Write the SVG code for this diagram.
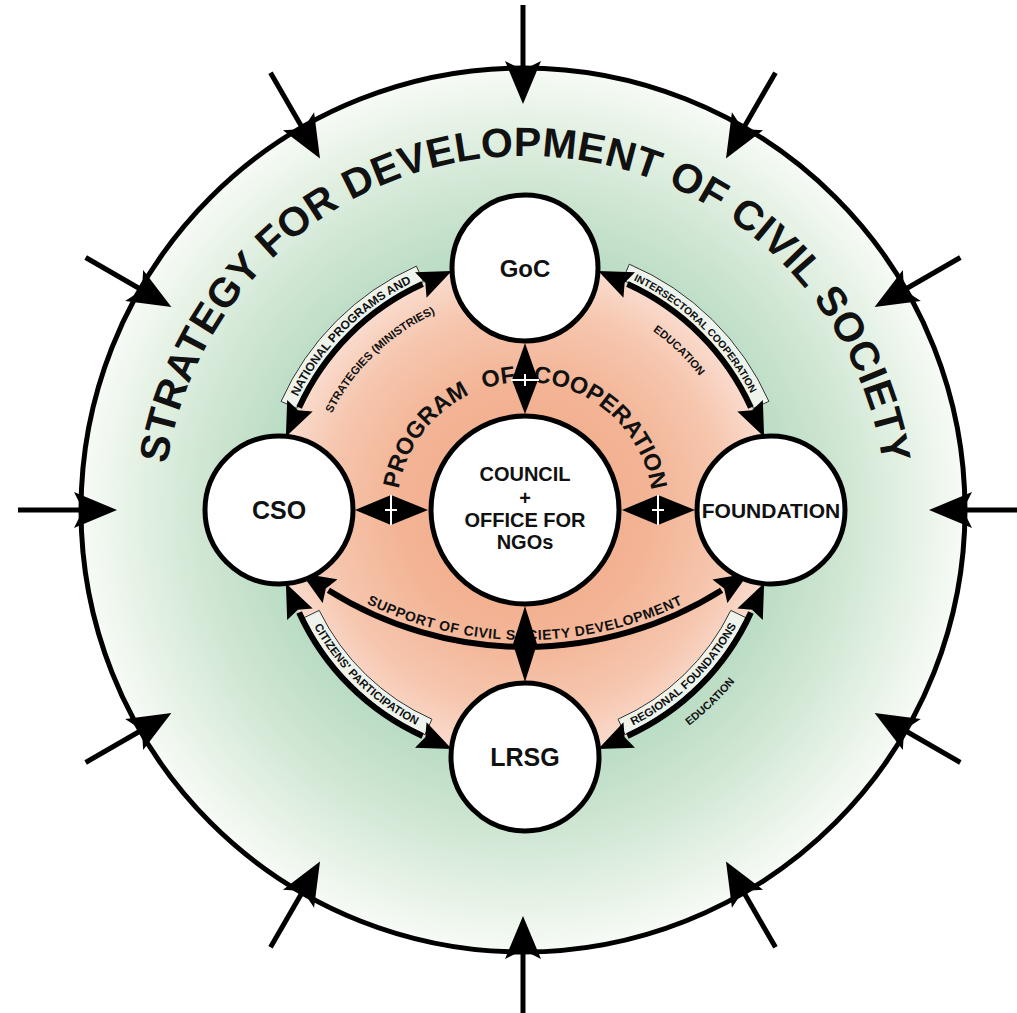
<svg xmlns="http://www.w3.org/2000/svg" xmlns:xlink="http://www.w3.org/1999/xlink" width="1017" height="1013" viewBox="0 0 1017 1013">
<style>
text{font-family:"Liberation Sans",Arial,sans-serif;font-weight:bold;fill:#111}
.node{fill:#fff;stroke:#000;stroke-width:5}
.arc{fill:none;stroke:#000;stroke-width:6;marker-start:url(#ah);marker-end:url(#ah)}
.band{fill:#eef4ec;stroke:#333;stroke-width:1}
.dia{fill:#000}
.cut{stroke:#fff;stroke-width:2}
</style>
<defs>
<radialGradient id="green" gradientUnits="userSpaceOnUse" cx="523" cy="510" r="442">
<stop offset="0" stop-color="#acd6b9"/>
<stop offset="0.55" stop-color="#b8dbc3"/>
<stop offset="0.7" stop-color="#cbe4d0"/>
<stop offset="0.86" stop-color="#e2f0e2"/>
<stop offset="1" stop-color="#f7fbf6"/>
</radialGradient>
<radialGradient id="orange" gradientUnits="userSpaceOnUse" cx="525" cy="510" r="250">
<stop offset="0" stop-color="#f0a886"/>
<stop offset="0.5" stop-color="#f3b495"/>
<stop offset="0.8" stop-color="#f6c6ae"/>
<stop offset="1" stop-color="#fadccf"/>
</radialGradient>
<marker id="ah" viewBox="0 0 34 28" refX="2" refY="14" markerWidth="34" markerHeight="28" markerUnits="userSpaceOnUse" orient="auto-start-reverse">
<path d="M0,0 L34,14 L0,28 L5,14 Z" fill="#000"/>
</marker>
<g id="spoke">
<line x1="523" y1="5" x2="523" y2="72" stroke="#000" stroke-width="5"/>
<path d="M523,104 L541,61 L523,70 L505,61 Z" fill="#000"/>
</g>
<path id="pTitle" d="M168.5,580.9 A362,362 0 1 1 881.5,580.9"/>
<path id="pProg" d="M397,510 A128,128 0 0 1 653,510"/>
<path id="pSupport" d="M269,534 A362,362 0 0 0 781,534"/>
<path id="pA" d="M272,487.9 A254,254 0 0 1 502.9,257"/>
<path id="pB" d="M310.2,487.4 A216,216 0 0 1 509.9,294.5"/>
<path id="pC" d="M542.7,256.6 A254,254 0 0 1 777.6,483.5"/>
<path id="pD" d="M540.4,290.5 A220,220 0 0 1 743.8,487"/>
<path id="pE" d="M285.3,535.2 A241,241 0 0 0 508.2,750.4"/>
<path id="pF" d="M541.8,750.4 A241,241 0 0 0 764.7,535.2"/>
<path id="pG" d="M543.9,780.3 A271,271 0 0 0 794.5,538.3"/>
</defs>

<rect width="1017" height="1013" fill="#fff"/>

<g id="strategy">
<circle cx="523" cy="510" r="442" fill="url(#green)" stroke="#000" stroke-width="5"/>
<text font-size="41" letter-spacing="0.3"><textPath xlink:href="#pTitle" href="#pTitle" startOffset="50%" text-anchor="middle">STRATEGY FOR DEVELOPMENT OF CIVIL SOCIETY</textPath></text>
</g>

<g id="inputs">
<use href="#spoke" xlink:href="#spoke"/>
<use href="#spoke" xlink:href="#spoke" transform="rotate(30 523 510)"/>
<use href="#spoke" xlink:href="#spoke" transform="rotate(60 523 510)"/>
<use href="#spoke" xlink:href="#spoke" transform="rotate(90 523 510)"/>
<use href="#spoke" xlink:href="#spoke" transform="rotate(120 523 510)"/>
<use href="#spoke" xlink:href="#spoke" transform="rotate(150 523 510)"/>
<use href="#spoke" xlink:href="#spoke" transform="rotate(180 523 510)"/>
<use href="#spoke" xlink:href="#spoke" transform="rotate(210 523 510)"/>
<use href="#spoke" xlink:href="#spoke" transform="rotate(240 523 510)"/>
<use href="#spoke" xlink:href="#spoke" transform="rotate(270 523 510)"/>
<use href="#spoke" xlink:href="#spoke" transform="rotate(300 523 510)"/>
<use href="#spoke" xlink:href="#spoke" transform="rotate(330 523 510)"/>
</g>

<g id="program">
<circle cx="525" cy="510" r="248" fill="url(#orange)"/>
<text font-size="23.5"><textPath xlink:href="#pProg" href="#pProg" startOffset="21">PROGRAM</textPath></text>
<text font-size="23.5"><textPath xlink:href="#pProg" href="#pProg" startOffset="159">OF</textPath></text>
<text font-size="23.5"><textPath xlink:href="#pProg" href="#pProg" startOffset="209">COOPERATION</textPath></text>
</g>

<g id="connectors">
<path class="band" d="M281.1,401.4 A267,267 0 0 1 416.4,266.1 L423.3,281.6 A250,250 0 0 0 296.6,408.3 Z"/>
<path class="band" d="M629.3,264.2 A267,267 0 0 1 768.9,401.4 L753.4,408.3 A250,250 0 0 0 622.7,279.9 Z"/>
<path class="band" d="M431.9,719.2 A229,229 0 0 1 319.2,610.4 L303.9,617.8 A246,246 0 0 0 425,734.7 Z"/>
<path class="band" d="M730.8,610.4 A229,229 0 0 1 618.1,719.2 L625,734.7 A246,246 0 0 0 746.1,617.8 Z"/>

<path class="arc" d="M299.1,407.6 A248,248 0 0 1 422.6,284.1"/>
<path class="arc" d="M627.4,284.1 A248,248 0 0 1 750.9,407.6"/>
<path class="arc" d="M750.9,612.4 A248,248 0 0 1 627.4,735.9"/>
<path class="arc" d="M422.6,735.9 A248,248 0 0 1 299.1,612.4"/>
<path class="arc" d="M328.4,590.2 A369,369 0 0 0 721.6,590.2"/>

<text font-size="12"><textPath xlink:href="#pA" href="#pA" startOffset="50%" text-anchor="middle">NATIONAL PROGRAMS AND</textPath></text>
<text font-size="11.3"><textPath xlink:href="#pB" href="#pB" startOffset="50%" text-anchor="middle">STRATEGIES (MINISTRIES)</textPath></text>
<text font-size="10.3"><textPath xlink:href="#pC" href="#pC" startOffset="50%" text-anchor="middle">INTERSECTORAL COOPERATION</textPath></text>
<text font-size="11.1"><textPath xlink:href="#pD" href="#pD" startOffset="50%" text-anchor="middle">EDUCATION</textPath></text>
<text font-size="11.4"><textPath xlink:href="#pE" href="#pE" startOffset="50%" text-anchor="middle">CITIZENS' PARTICIPATION</textPath></text>
<text font-size="11.4"><textPath xlink:href="#pF" href="#pF" startOffset="50%" text-anchor="middle">REGIONAL FOUNDATIONS</textPath></text>
<text font-size="10.9"><textPath xlink:href="#pG" href="#pG" startOffset="50%" text-anchor="middle">EDUCATION</textPath></text>
<text font-size="14" letter-spacing="0.6"><textPath xlink:href="#pSupport" href="#pSupport" startOffset="50%" text-anchor="middle">SUPPORT OF CIVIL SOCIETY DEVELOPMENT</textPath></text>

<path class="dia" d="M525,343 L538,380 L525,414 L512,380 Z"/>
<line class="cut" x1="511" y1="380" x2="539" y2="380" stroke-width="1.5"/>
<line class="cut" x1="525" y1="374" x2="525" y2="386" stroke-width="1.2"/>
<path class="dia" d="M355,510 L391,495 L428,510 L391,525 Z"/>
<line class="cut" x1="391" y1="495" x2="391" y2="525" stroke-width="1.5"/>
<line class="cut" x1="385" y1="510" x2="397" y2="510" stroke-width="1.2"/>
<path class="dia" d="M622,510 L658,495 L695,510 L658,525 Z"/>
<line class="cut" x1="658" y1="495" x2="658" y2="525" stroke-width="1.5"/>
<line class="cut" x1="652" y1="510" x2="664" y2="510" stroke-width="1.2"/>
<path class="dia" d="M525,606 L537,644 L525,682 L513,644 Z"/>
</g>

<g id="goc">
<circle class="node" cx="525" cy="268" r="73"/>
<text x="525" y="277" font-size="24" text-anchor="middle">GoC</text>
</g>
<g id="cso">
<circle class="node" cx="279" cy="510" r="74"/>
<text x="279" y="519" font-size="25" text-anchor="middle">CSO</text>
</g>
<g id="foundation">
<circle class="node" cx="771" cy="510" r="74"/>
<text x="771" y="518" font-size="21" text-anchor="middle">FOUNDATION</text>
</g>
<g id="lrsg">
<circle class="node" cx="525" cy="757" r="74"/>
<text x="525" y="766" font-size="25" text-anchor="middle">LRSG</text>
</g>
<g id="council">
<circle class="node" cx="525" cy="510" r="94"/>
<text x="525" y="481" font-size="20" text-anchor="middle">COUNCIL</text>
<text x="525" y="505" font-size="20" text-anchor="middle">+</text>
<text x="525" y="527" font-size="20" text-anchor="middle">OFFICE FOR</text>
<text x="525" y="549" font-size="20" text-anchor="middle">NGOs</text>
</g>
</svg>
